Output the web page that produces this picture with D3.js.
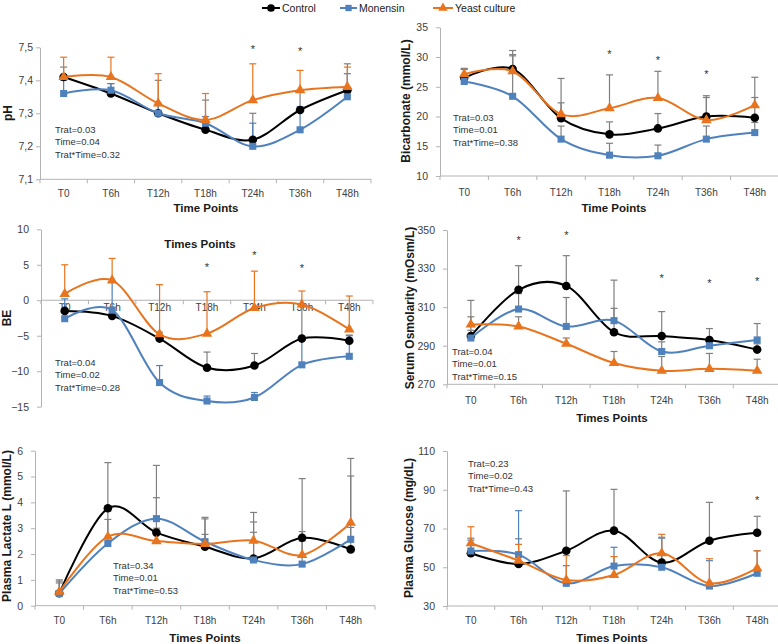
<!DOCTYPE html>
<html><head><meta charset="utf-8">
<script src="https://cdn.jsdelivr.net/npm/d3@7"></script>
<style>
body{margin:0;background:#fff}
svg{display:block;font-family:"Liberation Sans",Arial,sans-serif}
</style>
</head><body>
<svg id="c" width="778" height="644"></svg>
<script>
// ---------- DATA ----------
const timePoints = ["T0","T6h","T12h","T18h","T24h","T36h","T48h"];
const seriesNames = ["Control","Monensin","Yeast culture"];

// pH
const phControl   = [7.41,7.36,7.30,7.25,7.22,7.31,7.37];
const phMonensin  = [7.36,7.37,7.30,7.27,7.20,7.25,7.35];
const phYeast     = [7.41,7.41,7.33,7.28,7.34,7.37,7.38];
const phControlUp  = [7.44,7.39,7.40,7.34,7.30,7.37,7.45];
const phMonensinUp = [7.40,7.39,7.33,7.29,7.27,7.32,7.42];
const phYeastUp    = [7.47,7.47,7.42,7.36,7.45,7.43,7.44];
const phStars = [null,null,null,null,7.50,7.495,null];
const phTicks = [7.1,7.2,7.3,7.4,7.5];
const phStats = ["Trat=0.03","Time=0.04","Trat*Time=0.32"];

// Bicarbonate
const bicControl   = [26.5,28.0,19.7,17.0,18.0,20.0,19.8];
const bicMonensin  = [25.9,23.4,16.2,13.5,13.4,16.2,17.3];
const bicYeast     = [27.1,27.6,20.4,21.4,23.1,19.4,21.9];
const bicControlUp  = [28.1,31.1,22.3,19.1,20.5,23.5,23.2];
const bicMonensinUp = [27.9,30.2,18.4,15.5,15.2,18.4,19.0];
const bicYeastUp    = [28.0,30.4,26.4,27.0,27.6,23.2,26.6];
const bicStars = [null,null,null,30.8,29.9,27.5,null];
const bicTicks = [10,15,20,25,30,35];
const bicStats = ["Trat=0.03","Time=0.01","Trat*Time=0.38"];

// BE
const beControl   = [-1.5,-2.2,-5.4,-9.5,-9.2,-5.4,-5.7];
const beMonensin  = [-2.6,-1.4,-11.6,-14.2,-13.7,-9.1,-7.9];
const beYeast     = [0.9,2.8,-4.8,-4.7,-1.1,-0.6,-4.1];
const beControlUp  = [-0.5,-1.0,-4.5,-7.3,-7.5,-0.8,-4.9];
const beMonensinUp = [0.2,2.6,-9.2,-13.5,-13.0,-5.5,-5.0];
const beYeastUp    = [5.0,5.9,2.2,1.2,4.1,1.3,0.6];
const beStars = [null,null,null,5.0,6.6,4.8,null];
const beTicks = [-15,-10,-5,0,5,10];
const beStats = ["Trat=0.04","Time=0.02","Trat*Time=0.28"];

// Serum osmolarity
const osmControl   = [295,319,321,297,295,293,288];
const osmMonensin  = [294,309,300,303,287,290,293];
const osmYeast     = [301,300,291,281,277,278,277];
const osmControlUp  = [305,331.5,336.7,309.4,307.7,298.9,291];
const osmMonensinUp = [298,317,315,324,292,294,301.5];
const osmYeastUp    = [313.5,305,294,287,284.4,286,283];
const osmStars = [null,345.7,348.3,null,326.2,323.6,324.6];
const osmTicks = [270,290,310,330,350];
const osmStats = ["Trat=0.04","Time=0.01","Trat*Time=0.15"];

// Plasma lactate
const lacControl   = [0.48,3.77,2.83,2.28,1.83,2.63,2.18];
const lacMonensin  = [0.47,2.41,3.37,2.48,1.77,1.61,2.57];
const lacYeast     = [0.54,2.67,2.50,2.39,2.52,1.96,3.21];
const lacControlUp  = [1.00,5.54,4.18,3.42,3.24,4.92,5.02];
const lacMonensinUp = [0.95,3.34,5.43,3.36,2.84,2.50,3.03];
const lacYeastUp    = [0.88,3.67,3.00,2.76,3.61,2.87,5.70];
const lacStars = [null,null,null,null,null,null,null];
const lacTicks = [0,1,2,3,4,5,6];
const lacStats = ["Trat=0.34","Time=0.01","Trat*Time=0.53"];

// Plasma glucose
const gluControl   = [57.2,51.7,58.5,68.9,52.4,63.7,67.8];
const gluMonensin  = [58.4,56.5,41.7,50.6,50.0,40.3,46.9];
const gluYeast     = [62.4,53.4,43.4,46.0,57.2,41.7,49.5];
const gluControlUp  = [65,64.7,89.4,90.2,65.5,83.5,76.3];
const gluMonensinUp = [64,79.2,50.8,60.3,65,53.4,58.5];
const gluYeastUp    = [70.9,61.8,56,55.5,67,54.4,58.5];
const gluStars = [null,null,null,null,null,null,85.9];
const gluTicks = [30,50,70,90,110];
const gluStats = ["Trat=0.23","Time=0.02","Trat*Time=0.43"];

// ---------- STYLE ----------
const colors = ["#000000","#4f81bd","#e8741e"];
const errColors = ["#7f7f7f","#4f81bd","#e8741e"];
const greyErr = "#7f7f7f";
const symbols = [d3.symbolCircle, d3.symbolSquare, d3.symbolTriangle];
const symSizes = [58, 50, 48];
const axisColor = "#b3b3b3";
const textColor = "#404040";

const comma = d => d.toFixed(1).replace(".", ",");

const panels = [
  {vals:[phControl,phMonensin,phYeast], ups:[phControlUp,phMonensinUp,phYeastUp], stars:phStars, ticks:phTicks, stats:phStats,
   fmt:comma, x0:40, x1:371, yTop:47.3, yBot:179.3, domain:[7.1,7.5], xAxisAt:7.1, labelY:197, tickPad:3,
   xTitle:"Time Points", xTitleX:206, xTitleY:212, yTitle:"pH", yTitleX:12, yTitleY:113, statX:55, statY:133, errColored:true},
  {vals:[bicControl,bicMonensin,bicYeast], ups:[bicControlUp,bicMonensinUp,bicYeastUp], stars:bicStars, ticks:bicTicks, stats:bicStats,
   fmt:d3.format("d"), x0:440, x1:779, yTop:27.3, yBot:176, domain:[10,35], xAxisAt:10, labelY:196, tickPad:8,
   xTitle:"Time Points", xTitleX:614, xTitleY:212, yTitle:"Bicarbonate (mmol/L)", yTitleX:410, yTitleY:101, statX:453, statY:121, errColored:false},
  {vals:[beControl,beMonensin,beYeast], ups:[beControlUp,beMonensinUp,beYeastUp], stars:beStars, ticks:beTicks, stats:beStats,
   fmt:d3.format("d"), x0:41, x1:373, yTop:229.3, yBot:406.7, domain:[-15,10], xAxisAt:0, labelY:311, tickPad:8,
   xTitle:"Times Points", xTitleX:200, xTitleY:248, yTitle:"BE", yTitleX:11, yTitleY:318, statX:55, statY:366, errColored:true},
  {vals:[osmControl,osmMonensin,osmYeast], ups:[osmControlUp,osmMonensinUp,osmYeastUp], stars:osmStars, ticks:osmTicks, stats:osmStats,
   fmt:d3.format("d"), x0:447, x1:781, yTop:230, yBot:384.3, domain:[270,350], xAxisAt:270, labelY:404, tickPad:8,
   xTitle:"Times Points", xTitleX:612, xTitleY:422, yTitle:"Serum Osmolarity (mOsm/L)", yTitleX:414, yTitleY:308, statX:452, statY:355, errColored:false},
  {vals:[lacControl,lacMonensin,lacYeast], ups:[lacControlUp,lacMonensinUp,lacYeastUp], stars:lacStars, ticks:lacTicks, stats:lacStats,
   fmt:d3.format("d"), x0:35, x1:375, yTop:450.7, yBot:605.7, domain:[0,6], xAxisAt:0, labelY:624, tickPad:8,
   xTitle:"Times Points", xTitleX:205, xTitleY:642, yTitle:"Plasma Lactate L (mmol/L)", yTitleX:11, yTitleY:526, statX:113, statY:569, errColored:false},
  {vals:[gluControl,gluMonensin,gluYeast], ups:[gluControlUp,gluMonensinUp,gluYeastUp], stars:gluStars, ticks:gluTicks, stats:gluStats,
   fmt:d3.format("d"), x0:447, x1:781, yTop:451, yBot:606, domain:[30,110], xAxisAt:30, labelY:624, tickPad:8,
   xTitle:"Times Points", xTitleX:612, xTitleY:642, yTitle:"Plasma Glucose (mg/dL)", yTitleX:413, yTitleY:528, statX:468, statY:467, errColored:true}
];

const svg = d3.select("#c");

function drawPanel(p) {
  const g = svg.append("g");
  const x = d3.scaleBand().domain(timePoints).range([p.x0, p.x1]);
  const y = d3.scaleLinear().domain(p.domain).range([p.yBot, p.yTop]);
  const cx = t => x(t) + x.bandwidth() / 2;

  // y axis
  const ya = g.append("g").attr("transform", `translate(${p.x0},0)`)
    .call(d3.axisLeft(y).tickValues(p.ticks).tickFormat(p.fmt).tickSizeOuter(0).tickSizeInner(4).tickPadding(p.tickPad));
  ya.select(".domain").attr("stroke", axisColor);
  ya.selectAll(".tick line").attr("stroke", axisColor);
  ya.selectAll(".tick text").attr("fill", textColor).style("font-size", "10.5px")
    .style("font-family", '"Liberation Sans",Arial,sans-serif');

  // x axis line
  const ay = y(p.xAxisAt);
  g.append("line").attr("x1", p.x0).attr("x2", p.x1).attr("y1", ay).attr("y2", ay).attr("stroke", axisColor);
  const bounds = timePoints.map(t => x(t)).concat([p.x1]);
  g.selectAll(".bt").data(bounds).join("line")
    .attr("x1", d => d).attr("x2", d => d).attr("y1", ay).attr("y2", ay + 4).attr("stroke", axisColor);
  g.selectAll(".xl").data(timePoints).join("text")
    .attr("x", d => cx(d)).attr("y", p.labelY).attr("text-anchor", "middle")
    .attr("fill", textColor).style("font-size", "10px").text(d => d);

  // titles
  g.append("text").attr("x", p.xTitleX).attr("y", p.xTitleY).attr("text-anchor", "middle")
    .style("font-size", "11.5px").style("font-weight", "bold").attr("fill", "#1a1a1a").text(p.xTitle);
  g.append("text").attr("transform", `translate(${p.yTitleX},${p.yTitleY}) rotate(-90)`).attr("text-anchor", "middle")
    .style("font-size", "12px").style("font-weight", "bold").attr("fill", "#1a1a1a").text(p.yTitle);

  // stats
  g.selectAll(".st").data(p.stats).join("text")
    .attr("x", p.statX).attr("y", (d, i) => p.statY + i * 12.3)
    .style("font-size", "9.5px").attr("fill", "#333").text(d => d);

  // series
  const line = d3.line().x((d, i) => cx(timePoints[i])).y(d => y(d)).curve(d3.curveCardinal.tension(0));
  p.vals.forEach((vals, s) => {
    const ec = p.errColored ? errColors[s] : greyErr;
    const ups = p.ups[s];
    const eg = g.append("g").attr("stroke", ec).attr("stroke-width", 1.2);
    eg.selectAll("line.v").data(vals).join("line")
      .attr("x1", (d, i) => cx(timePoints[i])).attr("x2", (d, i) => cx(timePoints[i]))
      .attr("y1", d => y(d)).attr("y2", (d, i) => y(ups[i]));
    eg.selectAll("line.c").data(ups).join("line")
      .attr("x1", (d, i) => cx(timePoints[i]) - 3.5).attr("x2", (d, i) => cx(timePoints[i]) + 3.5)
      .attr("y1", d => y(d)).attr("y2", d => y(d));
  });
  p.vals.forEach((vals, s) => {
    g.append("path").datum(vals).attr("d", line).attr("fill", "none")
      .attr("stroke", colors[s]).attr("stroke-width", 2);
    g.selectAll(null).data(vals).join("path")
      .attr("transform", (d, i) => `translate(${cx(timePoints[i])},${y(d)})`)
      .attr("d", d3.symbol().type(symbols[s]).size(symSizes[s]))
      .attr("fill", colors[s]);
  });

  // significance stars
  g.selectAll(".star").data(p.stars.map((v, i) => ({v, t: timePoints[i]})).filter(d => d.v !== null)).join("text")
    .attr("x", d => cx(d.t)).attr("y", d => y(d.v) + 6).attr("text-anchor", "middle")
    .style("font-size", "11px").attr("fill", "#333").text("*");
}

panels.forEach(drawPanel);

// legend
const legendPos = [{l0:262, l1:280, tx:282}, {l0:340, l1:357, tx:359}, {l0:433, l1:453, tx:455}];
const lg = svg.append("g");
seriesNames.forEach((name, s) => {
  const lp = legendPos[s];
  lg.append("line").attr("x1", lp.l0).attr("x2", lp.l1).attr("y1", 8).attr("y2", 8)
    .attr("stroke", colors[s]).attr("stroke-width", 2);
  lg.append("path").attr("transform", `translate(${(lp.l0 + lp.l1) / 2},8)`)
    .attr("d", d3.symbol().type(symbols[s]).size(symSizes[s] * 0.8)).attr("fill", colors[s]);
  lg.append("text").attr("x", lp.tx).attr("y", 12).style("font-size", "10.5px").attr("fill", "#1a1a1a").text(name);
});
</script>
</body></html>
